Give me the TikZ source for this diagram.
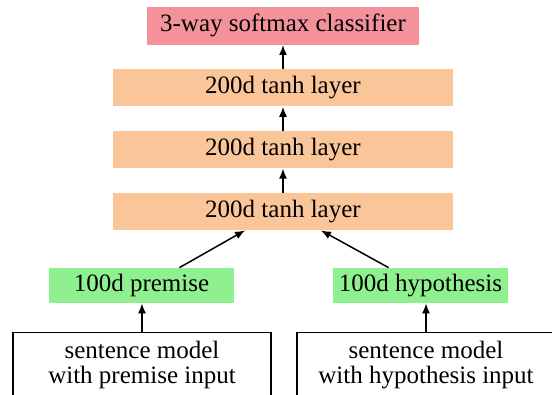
\documentclass[tikz,border=0pt]{standalone}
\usepackage{fontspec}
\setmainfont{Liberation Serif}
\usepackage{xcolor}
\usetikzlibrary{positioning,calc,arrows.meta}
\definecolor{softred}{RGB}{243,146,155}
\definecolor{tanhorange}{RGB}{251,197,154}
\definecolor{vecgreen}{RGB}{143,240,143}
\begin{document}
\begin{tikzpicture}[x=0.5pt, y=-0.5pt, node distance=12pt,
    every node/.style={font=\fontsize{12.5}{12.5}\selectfont, inner sep=0pt},
    layer/.style={fill=tanhorange, minimum width=170pt, minimum height=18.5pt},
    vec/.style={fill=vecgreen, minimum height=17.5pt},
    model/.style={draw, line width=0.75pt, minimum width=129pt, align=center, anchor=north, inner ysep=4pt, text depth=14pt},
    arr/.style={-{Latex[length=5pt,width=4pt]}, line width=0.75pt}]
    \clip (0,0) rectangle (552,395);
    \node [layer] (t3) at (283,211.5) {200d tanh layer};
    \node [layer, above=of t3] (t2) {200d tanh layer};
    \node [layer, above=of t2] (t1) {200d tanh layer};
    \node [fill=softred, minimum width=136pt, minimum height=19pt, above=of t1] (soft) {3-way softmax classifier};
    \node [vec, minimum width=92.5pt] (prem) at (141.5,285.5) {100d premise};
    \node [vec, minimum width=87.5pt] (hyp) at (420.5,285.5) {100d hypothesis};
    \node [model] (premin) at (142,332) {sentence model\\with premise input};
    \node [model] (hypin) at (426,332) {sentence model\\with hypothesis input};

    \draw [arr] (t1) -- (soft);
    \draw [arr] (t2) -- (t1);
    \draw [arr] (t3) -- (t2);
    \draw [arr] ([xshift=19pt]prem.north) -- ([xshift=-19pt]t3.south);
    \draw [arr] ([xshift=-16pt]hyp.north) -- ([xshift=19pt]t3.south);
    \draw [arr] (premin.north) -- (premin.north |- prem.south);
    \draw [arr] (hypin.north) -- (hypin.north |- hyp.south);
\end{tikzpicture}
\end{document}
